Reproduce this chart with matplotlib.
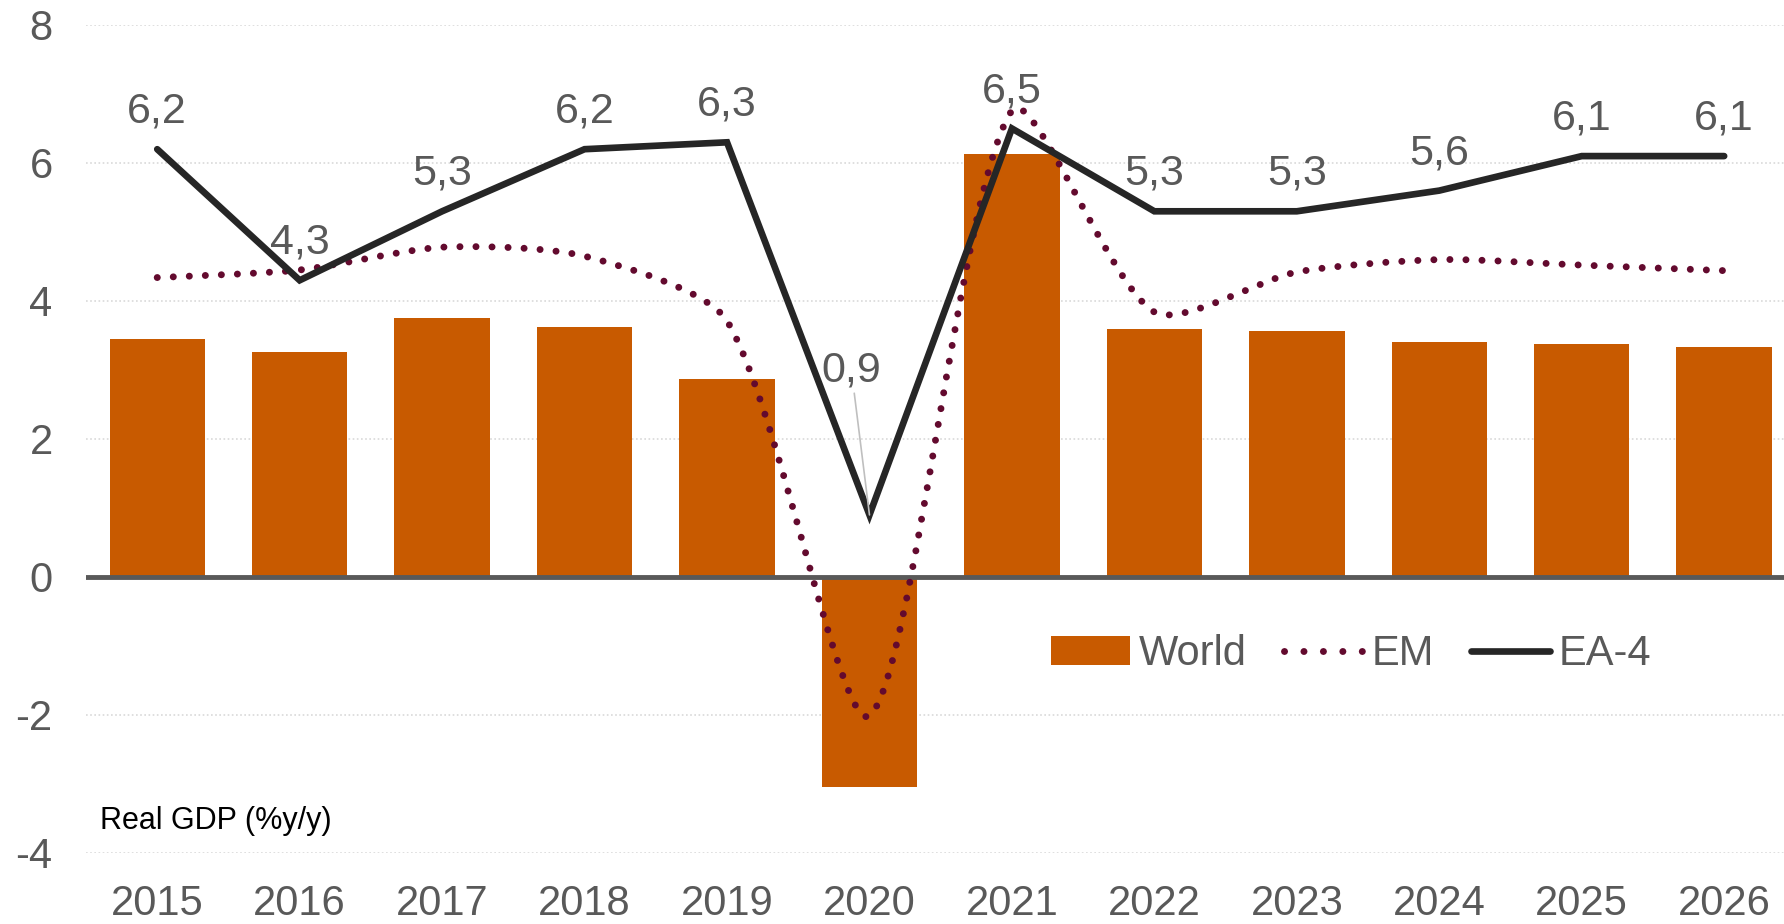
import numpy as np
import matplotlib
matplotlib.use("Agg")
import matplotlib.pyplot as plt
from matplotlib.path import Path
from matplotlib.patches import PathPatch, Patch
from matplotlib.lines import Line2D

plt.rcParams['font.family'] = ['Liberation Sans', 'DejaVu Sans']

years = ['2015', '2016', '2017', '2018', '2019', '2020',
         '2021', '2022', '2023', '2024', '2025', '2026']
world = [3.45, 3.26, 3.76, 3.63, 2.87, -3.05, 6.13, 3.60, 3.56, 3.41, 3.38, 3.33]
em = [4.34, 4.45, 4.78, 4.65, 3.71, -2.01, 6.76, 3.84, 4.42, 4.60, 4.52, 4.44]
ea4 = [6.2, 4.3, 5.3, 6.2, 6.3, 0.9, 6.5, 5.3, 5.3, 5.6, 6.1, 6.1]
ea4_labels = ['6,2', '4,3', '5,3', '6,2', '6,3', '0,9',
              '6,5', '5,3', '5,3', '5,6', '6,1', '6,1']

bar_col = '#C85A00'
em_col = '#630A2E'
ea_col = '#262626'
txt_col = '#595959'


def smooth_path(xs, ys, yscale, k=4.0):
    # smoothed line; tangent arms weighted by screen distances
    pts = np.column_stack([xs, np.asarray(ys) * yscale]).astype(float)
    n = len(pts)

    def dist(a, b):
        return np.hypot(*(pts[b] - pts[a]))

    verts = [pts[0]]
    codes = [Path.MOVETO]
    for i in range(n - 1):
        p1, p2 = pts[i], pts[i + 1]
        d12 = dist(i, i + 1)
        if i > 0:
            d01 = dist(i - 1, i)
            c1 = p1 + (p2 - pts[i - 1]) * d12 / (d01 + d12) / k
        else:
            c1 = p1 + (p2 - p1) / (2 * k)
        if i + 2 < n:
            d23 = dist(i + 1, i + 2)
            c2 = p2 - (pts[i + 2] - p1) * d12 / (d12 + d23) / k
        else:
            c2 = p2 - (p2 - p1) / (2 * k)
        verts += [c1, c2, p2]
        codes += [Path.CURVE4] * 3
    verts = np.array(verts)
    verts[:, 1] /= yscale
    return Path(verts, codes)


fig = plt.figure(figsize=(17.84, 9.24), dpi=100)
ax = fig.add_axes([86 / 1784, 71 / 924, 1 - 86 / 1784, 828 / 924])

x = np.arange(len(years))
ax.bar(x, world, width=0.67, color=bar_col, zorder=2)
ax.axhline(0, color='#595959', lw=3.5, zorder=3)

# screen px per y unit / px per x unit
yscale = 69.0 / 142.4
em_lw = 5.0
ax.add_patch(PathPatch(smooth_path(x, em, yscale), fill=False, edgecolor=em_col,
                       lw=em_lw, linestyle=(0, (0.01, 2.3)), capstyle='round',
                       zorder=4))
ax.plot(x, ea4, color=ea_col, lw=4.8, solid_capstyle='round',
        solid_joinstyle='miter', zorder=5)

for i, (v, lab) in enumerate(zip(ea4, ea4_labels)):
    if i == 5:
        ax.annotate(lab, (x[i], v), xytext=(-13, 104), textcoords='offset points',
                    ha='center', va='center', fontsize=31, color=txt_col,
                    arrowprops=dict(arrowstyle='-', color='#BFBFBF', lw=1.2,
                                    shrinkA=0, shrinkB=0), zorder=6)
    else:
        ax.annotate(lab, (x[i], v), xytext=(0, 27), textcoords='offset points',
                    ha='center', va='center', fontsize=31, color=txt_col, zorder=6)

ax.set_xlim(-0.5, 11.42)
ax.set_ylim(-4, 8)
ax.set_yticks([-4, -2, 0, 2, 4, 6, 8])
ax.set_yticklabels(['-4', '-2', '0', '2', '4', '6', '8'])
ax.set_xticks(x)
ax.set_xticklabels(years)
ax.tick_params(axis='both', length=0, labelsize=30, labelcolor=txt_col)
ax.tick_params(axis='y', pad=24)
ax.tick_params(axis='x', pad=22)
for s in ax.spines.values():
    s.set_visible(False)
for g in [-4, -2, 2, 4, 6, 8]:
    ax.axhline(g, color='#D9D9D9', lw=1.2, linestyle=(0, (1, 1.5)), zorder=1)

ax.text(100 / 1784, 1 - 821 / 924, 'Real GDP (%y/y)', transform=fig.transFigure,
        fontsize=22, color='black', ha='left', va='center')

handles = [Patch(facecolor=bar_col, edgecolor='none'),
           Line2D([0], [0], color=em_col, lw=em_lw, linestyle=(0, (0.01, 2.79)),
                  dash_capstyle='round'),
           Line2D([0], [0], color=ea_col, lw=4.8, solid_capstyle='round')]
leg = ax.legend(handles, ['World', 'EM', 'EA-4'], ncol=3, frameon=False,
                loc='center', bbox_to_anchor=(0.745, 0.24), fontsize=30,
                handlelength=1.9, handletextpad=0.2, columnspacing=0.9,
                labelcolor=txt_col)

fig.savefig('out.png', dpi=100)
